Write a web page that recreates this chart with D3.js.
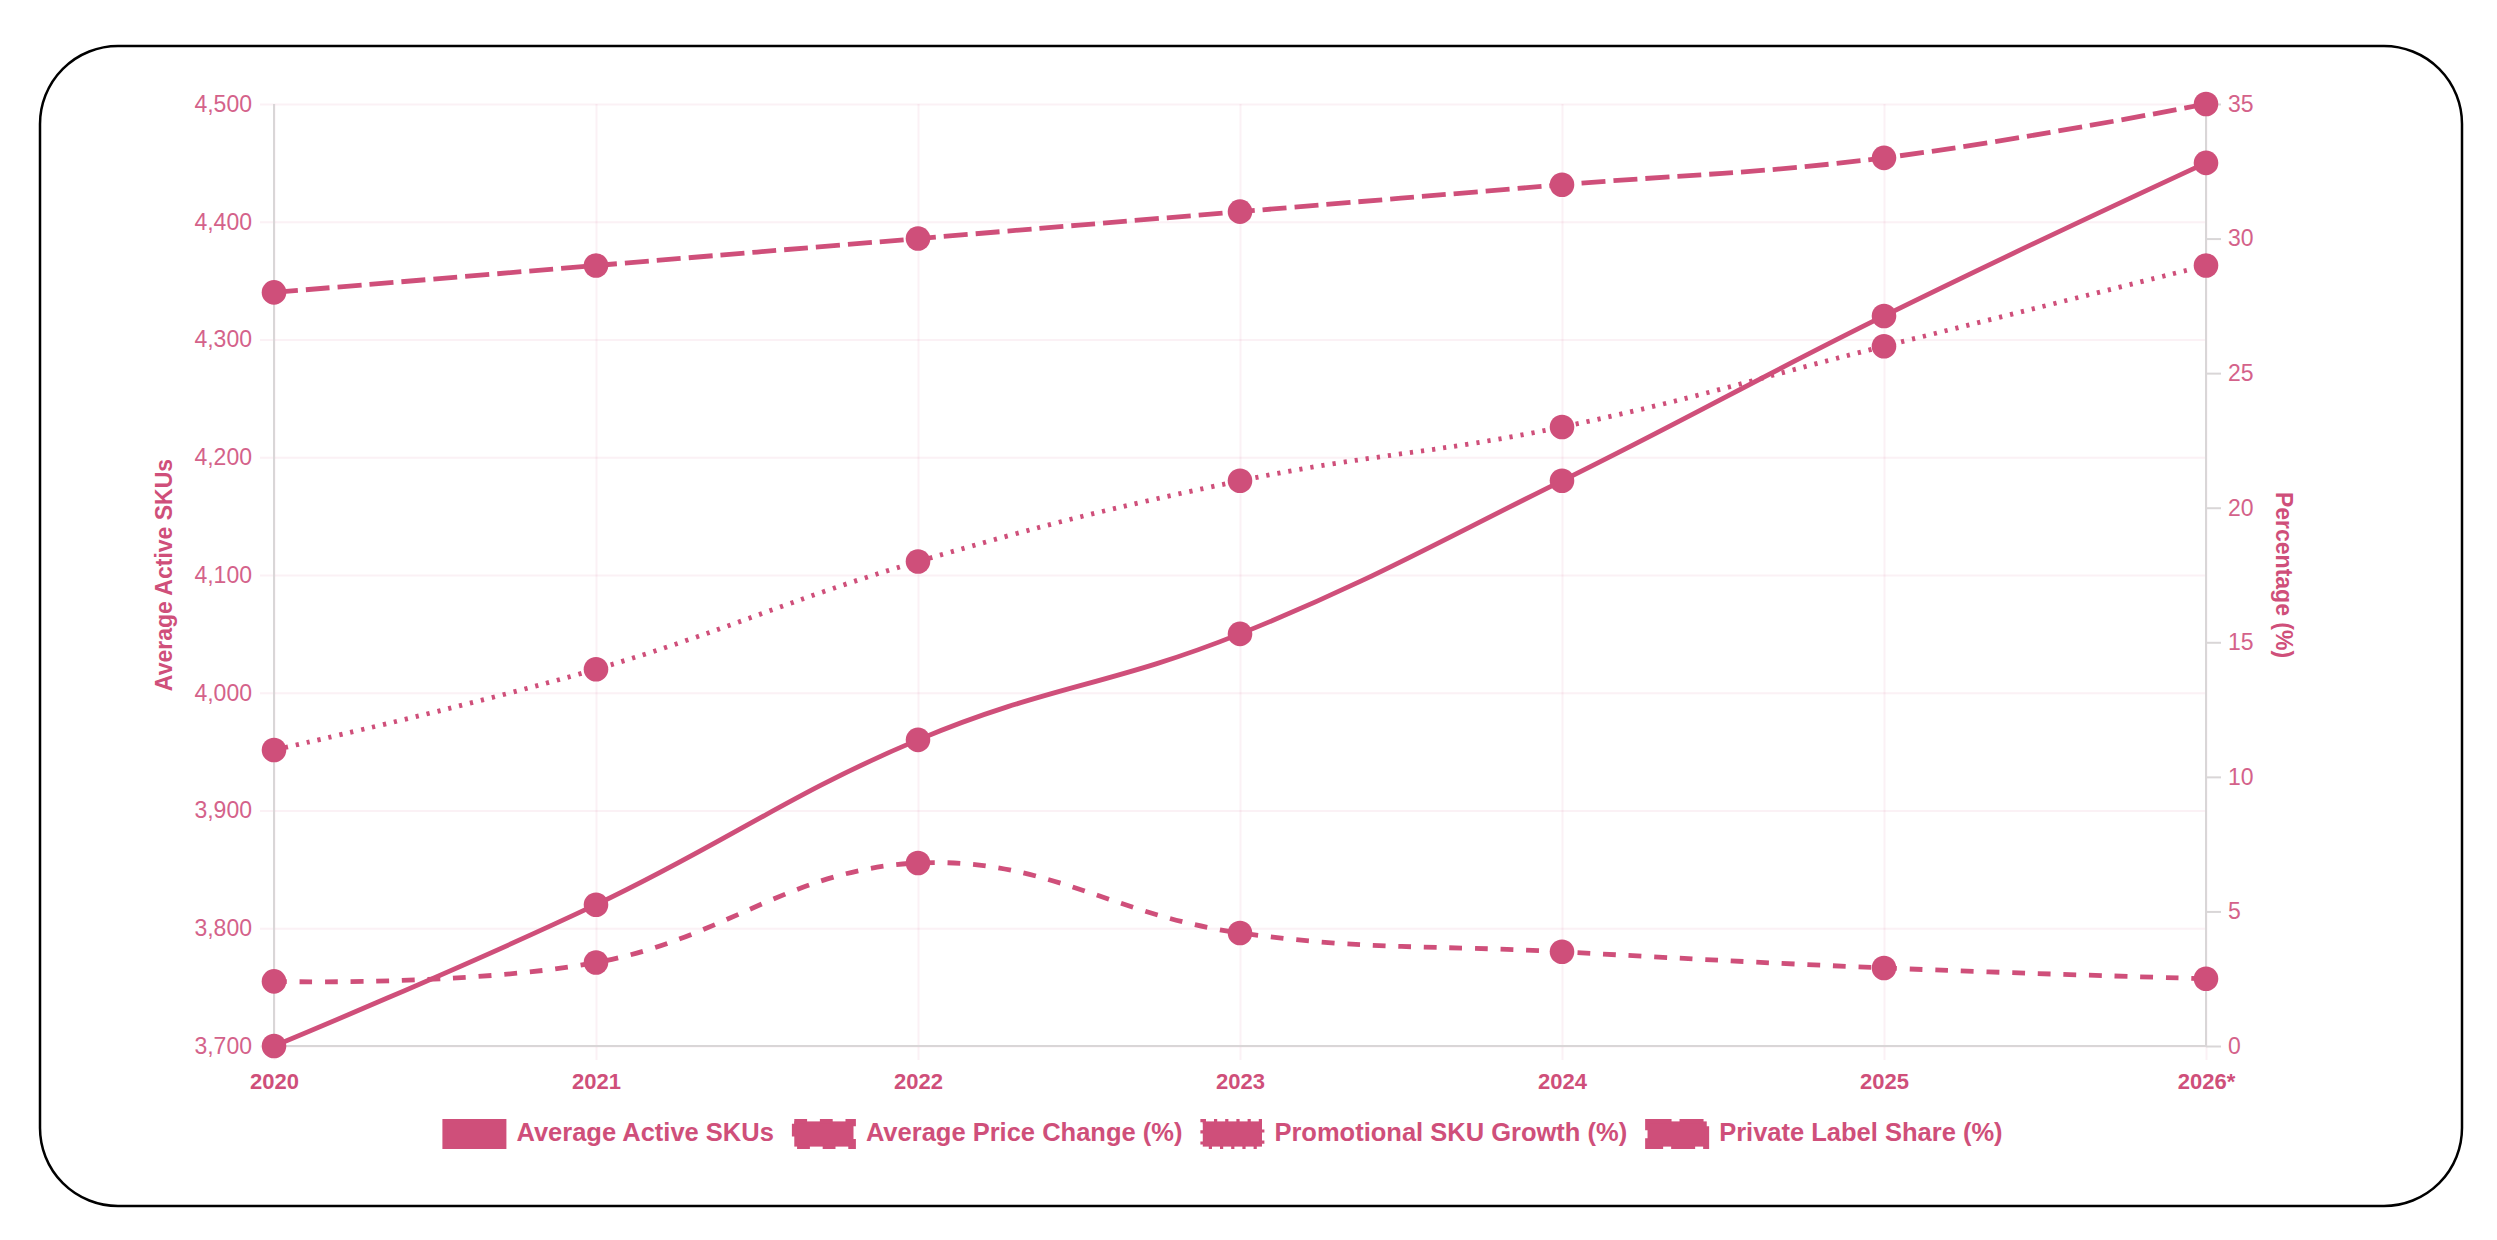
<!DOCTYPE html>
<html>
<head>
<meta charset="utf-8">
<script src="https://cdn.jsdelivr.net/npm/d3@7"></script>
<style>
  html, body { margin: 0; padding: 0; background: #fff; overflow: hidden; }
  #chart { width: 100vw; height: 100vh; }
  svg { display: block; width: 100%; height: 100%; font-family: 'Liberation Sans', Arial, sans-serif; }
</style>
</head>
<body>
<div id="chart"></div>
<script>
const years = ['2020', '2021', '2022', '2023', '2024', '2025', '2026*']
const activeSkus = [3700, 3820, 3960, 4050, 4180, 4320, 4450]
const priceChange = [2.4, 3.1, 6.8, 4.2, 3.5, 2.9, 2.5]
const promoGrowth = [11, 14, 18, 21, 23, 26, 29]
const privateLabel = [28, 29, 30, 31, 32, 33, 35]
const skuTicks = [3700, 3800, 3900, 4000, 4100, 4200, 4300, 4400, 4500]
const pctTicks = [0, 5, 10, 15, 20, 25, 30, 35]

const series = [
  { name: 'Average Active SKUs', values: activeSkus, axis: 'left', dash: null },
  { name: 'Average Price Change (%)', values: priceChange, axis: 'right', dash: '12.8,12.8' },
  { name: 'Promotional SKU Growth (%)', values: promoGrowth, axis: 'right', dash: '3.2,8' },
  { name: 'Private Label Share (%)', values: privateLabel, axis: 'right', dash: '24,8' }
]

const width = 2497
const height = 1240
const margin = { top: 104, right: 291, bottom: 194, left: 274 }
const innerWidth = width - margin.left - margin.right
const innerHeight = height - margin.top - margin.bottom
const pink = '#cf4f7a'
const tickPink = '#d4628a'
const gridColor = 'rgba(207, 79, 122, 0.08)'
const borderColor = '#d9d6d7'

const svg = d3.select('#chart').append('svg')
  .attr('viewBox', '0 0 ' + width + ' ' + height)

// outer rounded frame
svg.append('rect')
  .attr('x', 40).attr('y', 46)
  .attr('width', 2422).attr('height', 1160)
  .attr('rx', 78).attr('ry', 78)
  .attr('fill', 'none')
  .attr('stroke', '#000')
  .attr('stroke-width', 2.5)

const g = svg.append('g')
  .attr('transform', 'translate(' + margin.left + ',' + margin.top + ')')

const xScale = d3.scalePoint().domain(years).range([0, innerWidth])
const yLeft = d3.scaleLinear().domain([3700, 4500]).range([innerHeight, 0])
const yRight = d3.scaleLinear().domain([0, 35]).range([innerHeight, 0])

// horizontal grid + left ticks
const leftAxis = g.append('g')
  .attr('class', 'y axis')
  .attr('transform', 'translate(-14,0)')
  .call(d3.axisLeft(yLeft).tickValues(skuTicks).tickFormat(d3.format(','))
    .tickSize(-(innerWidth + 14)).tickPadding(8))
leftAxis.select('.domain').remove()
leftAxis.selectAll('line').attr('stroke', gridColor).attr('stroke-width', 2)
leftAxis.selectAll('text')
  .attr('fill', tickPink)
  .style('font-size', '23px')

// vertical grid + x labels
const xAxis = g.append('g')
  .attr('class', 'x axis')
  .attr('transform', 'translate(0,' + (innerHeight + 14) + ')')
  .call(d3.axisBottom(xScale).tickSize(-(innerHeight + 14)).tickPadding(13))
xAxis.select('.domain').remove()
xAxis.selectAll('line').attr('stroke', gridColor).attr('stroke-width', 2)
xAxis.selectAll('text')
  .attr('fill', pink)
  .style('font-size', '22px')
  .style('font-weight', 'bold')

// right axis ticks, no grid
const rightAxis = g.append('g')
  .attr('class', 'y2 axis')
  .attr('transform', 'translate(' + innerWidth + ',0)')
  .call(d3.axisRight(yRight).tickValues(pctTicks).tickSize(15).tickPadding(7))
rightAxis.select('.domain').remove()
rightAxis.selectAll('line').attr('stroke', borderColor).attr('stroke-width', 2)
rightAxis.selectAll('text')
  .attr('fill', tickPink)
  .style('font-size', '23px')

// chart borders
g.append('line')
  .attr('x1', 0).attr('x2', 0).attr('y1', 0).attr('y2', innerHeight)
  .attr('stroke', borderColor).attr('stroke-width', 2)
g.append('line')
  .attr('x1', innerWidth).attr('x2', innerWidth).attr('y1', 0).attr('y2', innerHeight)
  .attr('stroke', borderColor).attr('stroke-width', 2)
g.append('line')
  .attr('x1', 0).attr('x2', innerWidth).attr('y1', innerHeight).attr('y2', innerHeight)
  .attr('stroke', borderColor).attr('stroke-width', 2)

// axis titles
g.append('text')
  .attr('transform', 'translate(' + (172 - margin.left) + ',' + innerHeight / 2 + ') rotate(-90)')
  .attr('text-anchor', 'middle')
  .attr('fill', pink)
  .style('font-size', '23px')
  .style('font-weight', 'bold')
  .text('Average Active SKUs')

g.append('text')
  .attr('transform', 'translate(' + (2276 - margin.left) + ',' + innerHeight / 2 + ') rotate(90)')
  .attr('text-anchor', 'middle')
  .attr('fill', pink)
  .style('font-size', '23px')
  .style('font-weight', 'bold')
  .text('Percentage (%)')

// lines, drawn last dataset first so the first sits on top
const curve = d3.curveCardinal.tension(-0.2)
series.slice().reverse().forEach(s => {
  const yScale = s.axis === 'left' ? yLeft : yRight
  const line = d3.line()
    .x((d, i) => xScale(years[i]))
    .y(d => yScale(d))
    .curve(curve)

  g.append('path')
    .datum(s.values)
    .attr('fill', 'none')
    .attr('stroke', pink)
    .attr('stroke-width', 4.8)
    .attr('stroke-dasharray', s.dash)
    .attr('d', line)

  g.selectAll(null)
    .data(s.values)
    .enter().append('circle')
    .attr('cx', (d, i) => xScale(years[i]))
    .attr('cy', d => yScale(d))
    .attr('r', 12.3)
    .attr('fill', pink)
})

// legend
const legend = svg.append('g').attr('class', 'legend')
const boxW = 64
const boxH = 30
const items = legend.selectAll('g')
  .data(series)
  .enter().append('g')

items.append('rect')
  .attr('x', 2.4).attr('y', 2.4)
  .attr('width', boxW - 4.8).attr('height', boxH - 4.8)
  .attr('fill', pink)
  .attr('stroke', pink)
  .attr('stroke-width', 4.8)
  .attr('stroke-dasharray', d => d.dash)

items.append('text')
  .attr('x', boxW + 10)
  .attr('y', 22)
  .attr('fill', pink)
  .style('font-size', '25.5px')
  .style('font-weight', 'bold')
  .text(d => d.name)

let cursor = 0
const offsets = []
items.each(function () {
  const w = d3.select(this).select('text').node().getComputedTextLength()
  offsets.push(cursor)
  cursor += boxW + 10 + w + 18
})
const total = cursor - 18
const startX = 1222.5 - total / 2
items.attr('transform', (d, i) => 'translate(' + (startX + offsets[i]) + ',1119)')
</script>
</body>
</html>
